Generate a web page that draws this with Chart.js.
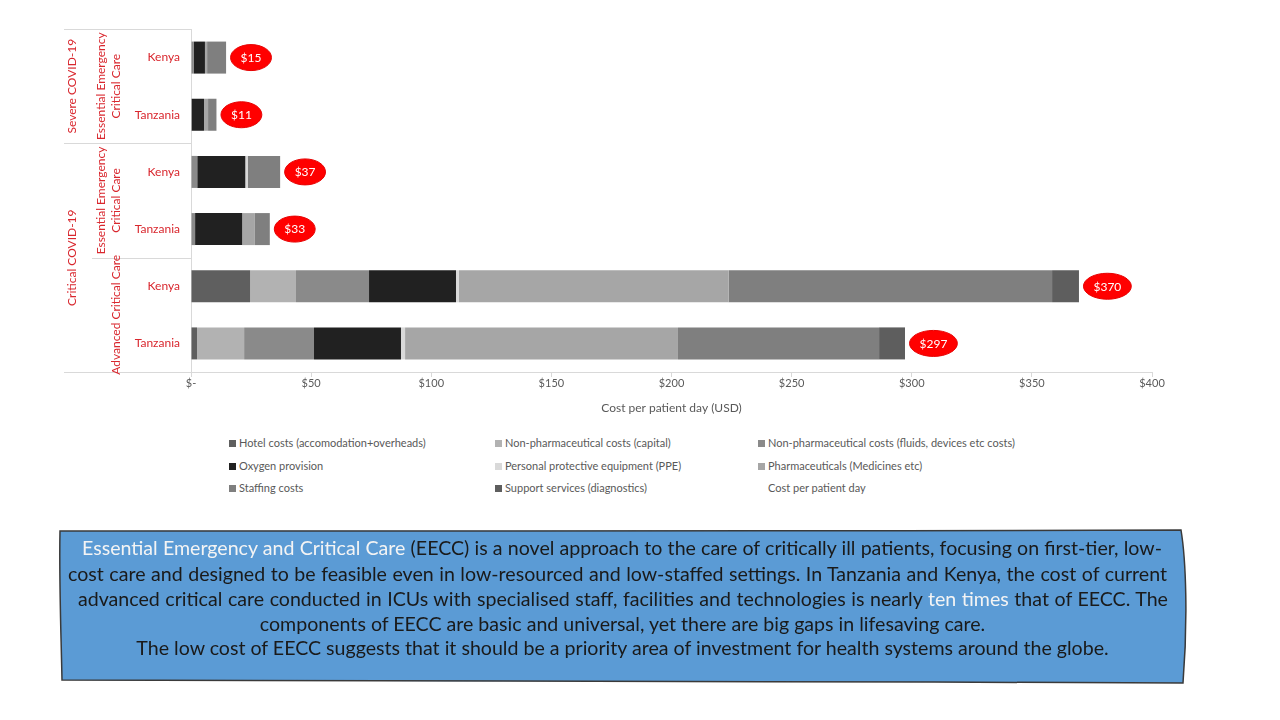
<!DOCTYPE html>
<html>
<head>
<meta charset="utf-8">
<script src="https://cdn.jsdelivr.net/npm/chart.js@4"></script>
<style>
  body { margin: 0; background: #fff; font-family: Lato, "Open Sans", sans-serif; }
  #wrap { position: relative; width: 1280px; height: 720px; overflow: hidden; }
  #chartBox { position: absolute; left: 0; top: 0; width: 1280px; height: 420px; }
  .leg { position: absolute; font-size: 11px; color: #595959; white-space: nowrap; line-height: 13px; }
  .leg i { display: inline-block; width: 7px; height: 7px; margin-right: 3px; vertical-align: 0px; }
  #note { position: absolute; left: 0; top: 0; width: 1280px; height: 720px; pointer-events: none; }
  .line { position: absolute; font-size: 19.6px; color: #1a1a1a; white-space: nowrap; line-height: 22px; }
  .just { text-align: justify; text-align-last: justify; white-space: normal; }
  .hl { color: #f4f4f4; }
</style>
</head>
<body>
<div id="wrap">
  <div id="chartBox"><canvas id="costChart"></canvas></div>
  <div id="legend"></div>
  <svg id="note" width="1280" height="720">
    <path d="M60,531 C400,530 800,532 1181,530 C1186,560 1188,620 1183,683 C800,681 400,682 62,680 C61,630 59,580 60,531 Z"
          fill="#5b9bd5" stroke="#3a3a3a" stroke-width="1.5"/>
  </svg>
  <div class="line just" style="left:82px; width:1080px; top:537px;"><span class="hl">Essential Emergency and Critical Care</span> (EECC) is a novel approach to the care of critically ill patients, focusing on first-tier, low-</div>
  <div class="line just" style="left:68px; width:1099px; top:563px;">cost care and designed to be feasible even in low-resourced and low-staffed settings. In Tanzania and Kenya, the cost of current</div>
  <div class="line just" style="left:78px; width:1090px; top:588px;">advanced critical care conducted in ICUs with specialised staff, facilities and technologies is nearly <span class="hl">ten times</span> that of EECC. The</div>
  <div class="line" style="left:60px; width:1125px; top:613px; text-align:center;">components of EECC are basic and universal, yet there are big gaps in lifesaving care.</div>
  <div class="line" style="left:60px; width:1240px; top:637px; text-align:center; width:1125px;">The low cost of EECC suggests that it should be a priority area of investment for health systems around the globe.</div>
</div>
<script>
// rows, top to bottom
const rowLabels = ['Kenya', 'Tanzania', 'Kenya', 'Tanzania', 'Kenya', 'Tanzania'];
const groupLabels = ['Severe COVID-19', 'Critical COVID-19'];
const groupSpans = [[0, 1], [2, 5]];
const subGroupLabels = [['Essential Emergency', 'Critical Care'], ['Essential Emergency', 'Critical Care'], ['Advanced Critical Care']];
const subGroupSpans = [[0, 1], [2, 3], [4, 5]];

// cost components (USD per patient day)
const hotelCosts    = [0,   0,   0,    0,    24.6,  2.5];
const capitalCosts  = [0,   0,   0,    0,    19.1,  19.6];
const fluidsCosts   = [1.2, 0.3, 2.6,  1.7,  30.4,  29.1];
const oxygenCosts   = [4.6, 5.1, 20.0, 19.6, 36.2,  36.2];
const ppeCosts      = [0,   0,   1.0,  0,    1.2,   1.7];
const pharmaCosts   = [0.9, 1.7, 0,    5.3,  112.3, 113.6];
const staffingCosts = [7.9, 3.5, 13.5, 6.2,  134.6, 83.7];
const supportCosts  = [0,   0,   0,    0,    11.2,  10.8];
const costPerPatientDay = [15, 11, 37, 33, 370, 297];

const xTicks = [0, 50, 100, 150, 200, 250, 300, 350, 400];

const labelRed = '#d9272e';
const axisGrey = '#d9d9d9';
const textGrey = '#595959';

const series = [
    { label: 'Hotel costs (accomodation+overheads)', data: hotelCosts, color: '#5f5f5f' },
    { label: 'Non-pharmaceutical costs (capital)', data: capitalCosts, color: '#b2b2b2' },
    { label: 'Non-pharmaceutical costs (fluids, devices etc costs)', data: fluidsCosts, color: '#8a8a8a' },
    { label: 'Oxygen provision', data: oxygenCosts, color: '#212121' },
    { label: 'Personal protective equipment (PPE)', data: ppeCosts, color: '#d9d9d9' },
    { label: 'Pharmaceuticals (Medicines etc)', data: pharmaCosts, color: '#a6a6a6' },
    { label: 'Staffing costs', data: staffingCosts, color: '#7f7f7f' },
    { label: 'Support services (diagnostics)', data: supportCosts, color: '#5e5e5e' }
];

// multi-level category labels + lines on the left
const categoryLevels = {
    id: 'categoryLevels',
    afterDraw(chart) {
        const ctx = chart.ctx;
        const y = chart.scales.y;
        const area = chart.chartArea;
        const rowEdge = i => (y.getPixelForValue(i) + y.getPixelForValue(i + 1)) / 2;
        ctx.save();
        ctx.strokeStyle = axisGrey;
        ctx.lineWidth = 1;
        const hline = (yy, x0) => {
            ctx.beginPath();
            ctx.moveTo(x0, Math.round(yy) + 0.5);
            ctx.lineTo(area.left, Math.round(yy) + 0.5);
            ctx.stroke();
        };
        hline(area.top, 64);
        hline(rowEdge(1), 64);
        hline(rowEdge(3), 92);
        hline(area.bottom, 64);

        ctx.fillStyle = labelRed;
        ctx.font = '12px Lato';
        ctx.textAlign = 'center';
        ctx.textBaseline = 'middle';
        const spanMid = s => (y.getPixelForValue(s[0]) + y.getPixelForValue(s[1])) / 2;
        const vtext = (txt, x, yy) => {
            ctx.save();
            ctx.translate(x, yy);
            ctx.rotate(-Math.PI / 2);
            ctx.fillText(txt, 0, 0);
            ctx.restore();
        };
        groupLabels.forEach((g, i) => vtext(g, 72, spanMid(groupSpans[i])));
        subGroupLabels.forEach((lines, i) => {
            const mid = spanMid(subGroupSpans[i]);
            lines.forEach((ln, k) => vtext(ln, 116 - (lines.length - 1 - k) * 15, mid));
        });
        ctx.restore();
    }
};

// red ellipse totals at the bar ends
const totalBubbles = {
    id: 'totalBubbles',
    afterDatasetsDraw(chart) {
        const ctx = chart.ctx;
        const x = chart.scales.x;
        const y = chart.scales.y;
        ctx.save();
        ctx.font = '12px Lato';
        ctx.textAlign = 'center';
        ctx.textBaseline = 'middle';
        costPerPatientDay.forEach((total, i) => {
            const stacked = chart.data.datasets.reduce((s, d) => s + d.data[i], 0);
            const end = x.getPixelForValue(stacked);
            const txt = '$' + total;
            const w = ctx.measureText(txt).width + 20;
            const cx = end + 4.5 + w / 2;
            const cy = y.getPixelForValue(i);
            ctx.beginPath();
            ctx.ellipse(cx, cy, w / 2, 13, 0, 0, Math.PI * 2);
            ctx.fillStyle = '#ff0000';
            ctx.fill();
            ctx.strokeStyle = '#e60000';
            ctx.stroke();
            ctx.fillStyle = '#ffffff';
            ctx.fillText(txt, cx, cy + 0.5);
        });
        ctx.restore();
    }
};

new Chart(document.getElementById('costChart'), {
    type: 'bar',
    data: {
        labels: rowLabels,
        datasets: series.map(s => ({
            label: s.label,
            data: s.data,
            backgroundColor: s.color,
            borderWidth: 0,
            barPercentage: 0.56,
            categoryPercentage: 1
        }))
    },
    options: {
        indexAxis: 'y',
        responsive: true,
        maintainAspectRatio: false,
        animation: false,
        layout: { padding: { left: 64, top: 29, right: 128, bottom: 0 } },
        plugins: {
            legend: { display: false },
            tooltip: { enabled: false }
        },
        scales: {
            x: {
                stacked: true,
                min: 0,
                max: 400,
                afterBuildTicks: axis => { axis.ticks = xTicks.map(v => ({ value: v })); },
                afterFit: axis => { axis.height = 48; },
                ticks: {
                    padding: 0,
                    color: textGrey,
                    font: { family: 'Lato', size: 11 },
                    callback: v => v === 0 ? '$-' : '$' + v
                },
                grid: { drawOnChartArea: false, drawTicks: true, tickLength: 5, color: axisGrey },
                border: { color: axisGrey },
                title: {
                    display: true,
                    text: 'Cost per patient day (USD)',
                    color: textGrey,
                    font: { family: 'Lato', size: 12 },
                    padding: { top: 0, bottom: 5 }
                }
            },
            y: {
                stacked: true,
                afterFit: axis => { axis.width = 127; },
                ticks: {
                    padding: 11,
                    color: labelRed,
                    font: { family: 'Lato', size: 12 }
                },
                grid: { display: false, drawTicks: false },
                border: { color: axisGrey }
            }
        }
    },
    plugins: [categoryLevels, totalBubbles]
});

// legend in three columns, last entry has no swatch
const legendCols = [229, 495, 758];
const legendRows = [436, 459, 481];
const legendItems = series.map(s => ({ label: s.label, color: s.color }))
    .concat([{ label: 'Cost per patient day', color: null }]);
const legendBox = document.getElementById('legend');
legendItems.forEach((item, i) => {
    const el = document.createElement('div');
    el.className = 'leg';
    el.style.left = legendCols[i % 3] + 'px';
    el.style.top = legendRows[Math.floor(i / 3)] + 'px';
    el.innerHTML = (item.color ? '<i style="background:' + item.color + '"></i>' : '<i style="background:transparent"></i>') + item.label;
    legendBox.appendChild(el);
});
</script>
</body>
</html>
